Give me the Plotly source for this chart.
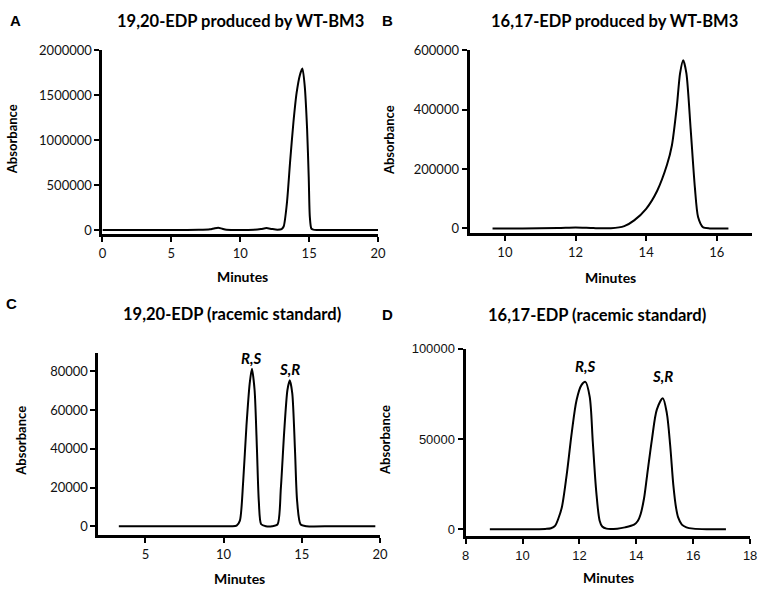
import plotly.graph_objects as go

W, H = 766, 589

# ---------------- data ----------------
a_minutes = [0, 2, 4, 6, 7, 7.8, 8.1, 8.4, 8.7, 9.0, 10, 11, 11.5, 11.9, 12.3, 12.7, 13.0,
             13.15, 13.38, 13.62, 13.86, 14.09, 14.33, 14.51, 14.68, 14.85, 14.97, 15.05,
             15.16, 15.3, 15.6, 17, 20]
a_absorb = [5000, 5000, 5000, 5000, 6000, 12000, 22000, 30000, 18000, 8000, 5000, 8000, 15000,
            25000, 15000, 8000, 15000, 43000, 293000, 764000, 1200000, 1525000, 1725000,
            1797000, 1600000, 1130000, 586000, 150000, 20000, 8000, 5000, 5000, 5000]

b_minutes = [9.65, 10.5, 11.5, 12.0, 12.5, 13.0, 13.38, 13.66, 14.0, 14.31, 14.59, 14.73,
             14.87, 14.96, 15.05, 15.14, 15.26, 15.38, 15.47, 15.61, 15.8, 16.33]
b_absorb = [0, 0, 1000, 3000, 1000, 500, 7600, 27000, 66000, 126000, 214000, 280000,
            412000, 522000, 566000, 522000, 335000, 137000, 38500, 4000, 0, 0]

c_minutes = [3.3, 6, 9, 10.5, 10.83, 11.04, 11.25, 11.46, 11.67, 11.81, 11.98, 12.13, 12.25,
             12.4, 12.7, 13.1, 13.45, 13.66, 13.87, 14.08, 14.23, 14.39, 14.56, 14.7, 14.92,
             15.3, 17, 19.7]
c_absorb = [0, 0, 0, 0, 300, 2900, 23000, 51800, 74000, 81400, 70400, 40000, 13000,
            1000, 0, 0, 1000, 19700, 48400, 70400, 75400, 68700, 40000, 13000, 1000,
            0, 0, 0]

d_minutes = [8.85, 10, 10.8, 11.0, 11.15, 11.25, 11.38, 11.55, 11.73, 11.9, 12.07, 12.21,
             12.36, 12.47, 12.59, 12.71, 12.8, 12.95, 13.33, 13.6, 13.92, 14.05, 14.15, 14.27,
             14.38, 14.55, 14.72, 14.93, 15.07, 15.19, 15.3, 15.4, 15.47, 15.6, 15.76, 16.0,
             16.5, 17.15]
d_absorb = [0, 0, 150, 500, 2000, 5500, 12000, 30000, 53600, 71700, 79900, 81700,
            73500, 48200, 21000, 4700, 1500, 300, 300, 1000, 2500, 4500, 8300, 17000,
            30000, 50000, 66300, 72600, 64500, 46400, 24600, 11500, 6500, 2500, 1000, 300,
            0, 0]

panel_letters = ["A", "B", "C", "D"]
panel_titles = ["19,20-EDP produced by WT-BM3", "16,17-EDP produced by WT-BM3",
                "19,20-EDP (racemic standard)", "16,17-EDP (racemic standard)"]
a_xticks = [0, 5, 10, 15, 20]
a_yticks = [0, 500000, 1000000, 1500000, 2000000]
b_xticks = [10, 12, 14, 16]
b_yticks = [0, 200000, 400000, 600000]
c_xticks = [5, 10, 15, 20]
c_yticks = [0, 20000, 40000, 60000, 80000]
d_xticks = [8, 10, 12, 14, 16, 18]
d_yticks = [0, 50000, 100000]

c_peak_labels = ["R,S", "S,R"]
c_peak_x = [11.81, 14.23]
c_peak_y = [81400, 75400]
d_peak_labels = ["R,S", "S,R"]
d_peak_x = [12.21, 14.93]
d_peak_y = [81700, 72600]

# ---------------- layout helpers ----------------
def px(x):
    return x / W

def py(y):
    return 1 - y / H

BODY = "Lato"
ARIAL = "Liberation Sans"

# pixel boxes: (left, right, top, bottom) of the axes
boxes = [(100, 380, 43, 231), (473, 760, 43, 230), (96, 382, 352, 538), (469, 758, 348, 539)]
xranges = [[0, 20], [9, 17], [2, 20], [8, 18]]
yranges = [[-43500, 2000000], [-16500, 600000], [-4560, 89600], [-3800, 100000]]
xticks = [a_xticks, b_xticks, c_xticks, d_xticks]
yticks = [a_yticks, b_yticks, c_yticks, d_yticks]
tickfonts = [BODY, BODY, BODY, ARIAL]
smooth = [0.7, 0.7, 0.7, 0.85]

fig = go.Figure()
series = [(a_minutes, a_absorb), (b_minutes, b_absorb), (c_minutes, c_absorb), (d_minutes, d_absorb)]
for i, (xs, ys) in enumerate(series):
    sfx = "" if i == 0 else str(i + 1)
    fig.add_trace(go.Scatter(x=xs, y=ys, mode="lines",
                             line=dict(color="black", width=2, shape="spline", smoothing=smooth[i]),
                             xaxis="x" + sfx, yaxis="y" + sfx, showlegend=False,
                             hoverinfo="skip"))

layout = dict(width=W, height=H, margin=dict(l=0, r=0, t=0, b=0, pad=0),
              paper_bgcolor="white", plot_bgcolor="white", showlegend=False)

for i in range(4):
    sfx = "" if i == 0 else str(i + 1)
    l, r, t, b = boxes[i]
    common = dict(showgrid=False, zeroline=False, showline=True, linecolor="black",
                  linewidth=3, ticks="outside", ticklen=5, tickwidth=2, tickcolor="black",
                  tickfont=dict(family=tickfonts[i], size=13, color="#111"),
                  tickmode="array", tickformat="d", fixedrange=True)
    layout["xaxis" + sfx] = dict(common, domain=[px(l), px(r)], range=xranges[i],
                                 tickvals=xticks[i], anchor="y" + sfx)
    layout["yaxis" + sfx] = dict(common, domain=[py(b), py(t)], range=yranges[i],
                                 tickvals=yticks[i], anchor="x" + sfx)

fig.update_layout(**layout)

ann = []
# panel letters
letter_pos = [(12, 13), (390, 13), (8, 302), (390, 313)]
for letter, (x, y) in zip(panel_letters, letter_pos):
    ann.append(dict(text="<b>%s</b>" % letter, x=px(x), y=py(y), xref="paper", yref="paper",
                    showarrow=False, font=dict(family=ARIAL, size=15, color="black"),
                    xanchor="center", yanchor="middle"))
# titles
title_pos = [(240, 13), (620, 13), (232, 312), (602, 313)]
for txt, (x, y) in zip(panel_titles, title_pos):
    ann.append(dict(text="<b>%s</b>" % txt, x=px(x), y=py(y), xref="paper", yref="paper",
                    showarrow=False, font=dict(family=BODY, size=16.5, color="black"),
                    xanchor="center", yanchor="middle"))
# axis titles
ylab_pos = [(8, 134), (391, 135), (17, 442), (387, 441)]
for (x, y) in ylab_pos:
    ann.append(dict(text="<b>Absorbance</b>", x=px(x), y=py(y), xref="paper", yref="paper",
                    showarrow=False, textangle=-90, font=dict(family=BODY, size=13, color="black"),
                    xanchor="center", yanchor="middle"))
xlab_pos = [(242, 274), (616, 275), (239, 582), (614, 581)]
for (x, y) in xlab_pos:
    ann.append(dict(text="<b>Minutes</b>", x=px(x), y=py(y), xref="paper", yref="paper",
                    showarrow=False, font=dict(family=BODY, size=14, color="black"),
                    xanchor="center", yanchor="middle"))
# peak labels
for lab, x, y in zip(c_peak_labels, c_peak_x, c_peak_y):
    ann.append(dict(text="<b><i>%s</i></b>" % lab, x=x, y=y, xref="x3", yref="y3",
                    showarrow=False, yanchor="bottom", yshift=0,
                    font=dict(family=BODY, size=15, color="black")))
for lab, x, y, ys in zip(d_peak_labels, d_peak_x, d_peak_y, [5, 11]):
    ann.append(dict(text="<b><i>%s</i></b>" % lab, x=x, y=y, xref="x4", yref="y4",
                    showarrow=False, yanchor="bottom", yshift=ys,
                    font=dict(family=BODY, size=15, color="black")))

fig.update_layout(annotations=ann)
fig.write_html("out.html", config={"displayModeBar": False},
               post_script="document.body.style.margin='0';document.body.style.overflow='hidden';")
